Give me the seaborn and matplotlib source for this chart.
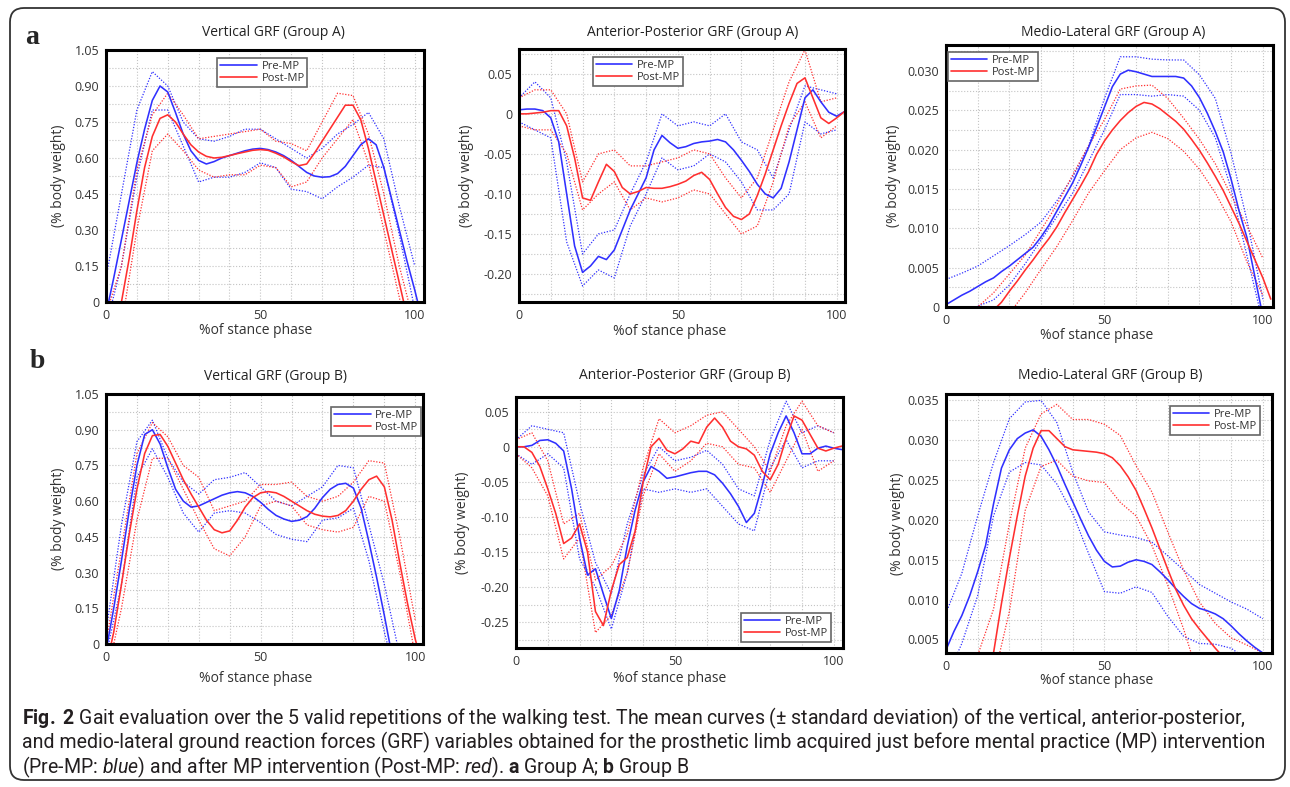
#!/usr/bin/env python3
"""
Gait evaluation figure: mean GRF curves (+/- SD) before and after mental practice,
Group A (top row) and Group B (bottom row).

Writes out.png
"""

import pandas as pd
import seaborn as sns
import matplotlib.pyplot as plt
from matplotlib import font_manager
from matplotlib.lines import Line2D
from matplotlib.patches import FancyBboxPatch
from matplotlib.ticker import MultipleLocator


# sample positions (% of stance phase)
STANCE = [0, 2.5, 5, 7.5, 10, 12.5, 15, 17.5, 20, 22.5, 25, 27.5, 30, 32.5, 35, 37.5,
          40, 42.5, 45, 47.5, 50, 52.5, 55, 57.5, 60, 62.5, 65, 67.5, 70, 72.5, 75,
          77.5, 80, 82.5, 85, 87.5, 90, 92.5, 95, 97.5, 100, 102.5]
STANCE_SD = [0, 5, 10, 15, 20, 25, 30, 35, 40, 45, 50, 55, 60, 65, 70, 75, 80, 85,
             90, 95, 100]

# ---- Vertical GRF, group A
VERT_A_PRE = [-0.05, 0.10, 0.26, 0.42, 0.58, 0.72, 0.84, 0.90, 0.875, 0.79, 0.70, 0.63,
              0.59, 0.575, 0.585, 0.60, 0.61, 0.62, 0.63, 0.637, 0.64, 0.635, 0.625,
              0.61, 0.59, 0.565, 0.54, 0.525, 0.52, 0.522, 0.535, 0.565, 0.61, 0.655,
              0.68, 0.655, 0.56, 0.43, 0.30, 0.17, 0.05, -0.08]
VERT_A_POST = [-0.25, -0.12, 0.0, 0.18, 0.38, 0.56, 0.69, 0.765, 0.78, 0.75, 0.70, 0.655,
               0.625, 0.607, 0.60, 0.603, 0.61, 0.618, 0.625, 0.632, 0.635, 0.632, 0.62,
               0.605, 0.585, 0.568, 0.575, 0.62, 0.67, 0.72, 0.77, 0.82, 0.82, 0.76,
               0.64, 0.50, 0.36, 0.22, 0.08, -0.06, -0.2, -0.34]
VERT_A_PRE_UP = [0.10, 0.45, 0.80, 0.96, 0.90, 0.75, 0.68, 0.67, 0.69, 0.72, 0.72, 0.68,
                 0.64, 0.60, 0.64, 0.70, 0.74, 0.79, 0.68, 0.40, 0.15]
VERT_A_PRE_LO = [-0.1, 0.15, 0.52, 0.80, 0.80, 0.65, 0.50, 0.52, 0.52, 0.54, 0.58, 0.56,
                 0.47, 0.46, 0.43, 0.48, 0.52, 0.57, 0.56, 0.28, -0.03]
VERT_A_POST_UP = [-0.05, 0.15, 0.55, 0.78, 0.87, 0.78, 0.68, 0.69, 0.70, 0.71, 0.72, 0.67,
                  0.66, 0.63, 0.75, 0.87, 0.86, 0.70, 0.45, 0.15, -0.1]
VERT_A_POST_LO = [-0.3, -0.1, 0.30, 0.63, 0.70, 0.63, 0.55, 0.52, 0.53, 0.53, 0.57, 0.56,
                  0.48, 0.50, 0.60, 0.68, 0.76, 0.58, 0.30, 0.02, -0.3]

# ---- Anterior-posterior GRF, group A
AP_A_PRE = [0.005, 0.006, 0.006, 0.004, -0.005, -0.035, -0.10, -0.165, -0.198, -0.19,
            -0.178, -0.182, -0.17, -0.145, -0.12, -0.10, -0.08, -0.045, -0.027, -0.036,
            -0.043, -0.041, -0.037, -0.035, -0.034, -0.032, -0.035, -0.045, -0.058,
            -0.072, -0.088, -0.10, -0.105, -0.093, -0.06, -0.02, 0.02, 0.03, 0.015,
            0.002, -0.003, 0.003]
AP_A_POST = [0.0, 0.0, 0.001, 0.002, 0.004, 0.004, -0.015, -0.055, -0.105, -0.108, -0.085,
             -0.063, -0.072, -0.092, -0.10, -0.097, -0.092, -0.093, -0.093, -0.091,
             -0.088, -0.084, -0.077, -0.073, -0.082, -0.10, -0.117, -0.128, -0.132,
             -0.125, -0.102, -0.075, -0.045, -0.015, 0.013, 0.038, 0.045, 0.02, -0.005,
             -0.012, -0.005, 0.003]
AP_A_PRE_UP = [0.02, 0.04, 0.02, -0.06, -0.175, -0.15, -0.145, -0.10, -0.06, 0.0, -0.015,
               -0.01, -0.015, 0.0, -0.035, -0.045, -0.08, -0.02, 0.035, 0.03, 0.025]
AP_A_PRE_LO = [-0.01, -0.02, -0.03, -0.16, -0.215, -0.195, -0.205, -0.14, -0.10, -0.055,
               -0.07, -0.065, -0.05, -0.06, -0.085, -0.12, -0.12, -0.10, -0.01, -0.025,
               -0.02]
AP_A_POST_UP = [0.02, 0.03, 0.03, 0.0, -0.085, -0.05, -0.045, -0.065, -0.065, -0.06,
                -0.055, -0.045, -0.05, -0.08, -0.105, -0.08, -0.02, 0.04, 0.08, 0.015,
                0.02]
AP_A_POST_LO = [-0.015, -0.02, -0.02, -0.05, -0.12, -0.10, -0.085, -0.12, -0.105, -0.11,
                -0.105, -0.095, -0.10, -0.125, -0.15, -0.14, -0.085, -0.015, 0.015,
                -0.03, -0.015]

# ---- Medio-lateral GRF, group A
ML_A_PRE = [0.0003, 0.0009, 0.0015, 0.0020, 0.0026, 0.0032, 0.0037, 0.0045, 0.0052,
            0.0060, 0.0068, 0.0076, 0.0089, 0.0104, 0.0122, 0.0140, 0.0158, 0.0180,
            0.0203, 0.0228, 0.0254, 0.0280, 0.0296, 0.0301, 0.0299, 0.0296, 0.0293,
            0.0293, 0.0293, 0.0293, 0.0291, 0.0281, 0.0266, 0.0246, 0.0223, 0.0197,
            0.0162, 0.0122, 0.0088, 0.0038, -0.0012, -0.0050]
ML_A_POST = [-0.006, -0.005, -0.004, -0.003, -0.002, -0.001, -0.0004, 0.0006, 0.0020,
             0.0033, 0.0047, 0.0060, 0.0074, 0.0087, 0.0102, 0.0120, 0.0137, 0.0154,
             0.0172, 0.0194, 0.0211, 0.0225, 0.0237, 0.0247, 0.0255, 0.0260, 0.0258,
             0.0252, 0.0244, 0.0236, 0.0226, 0.0213, 0.0199, 0.0183, 0.0166, 0.0148,
             0.0127, 0.0106, 0.0083, 0.0060, 0.0037, 0.0010]
ML_A_PRE_UP = [0.0035, 0.0043, 0.0052, 0.0065, 0.0078, 0.0092, 0.0108, 0.0135, 0.0165,
               0.0205, 0.0265, 0.0318, 0.0318, 0.0315, 0.0314, 0.0314, 0.0295, 0.0265,
               0.0195, 0.0110, 0.0010]
ML_A_PRE_LO = [-0.003, -0.0015, 0.0001, 0.0009, 0.0028, 0.0055, 0.0085, 0.0115, 0.0145,
               0.0185, 0.0225, 0.0270, 0.0270, 0.0268, 0.0270, 0.0268, 0.0250, 0.0215,
               0.0150, 0.0065, -0.0020]
ML_A_POST_UP = [-0.004, -0.002, 0.0, 0.0018, 0.0042, 0.0066, 0.0098, 0.0130, 0.0168,
                0.0205, 0.0238, 0.0277, 0.0281, 0.0282, 0.0265, 0.0240, 0.0213, 0.0182,
                0.0142, 0.0103, 0.0062]
ML_A_POST_LO = [-0.008, -0.006, -0.004, -0.002, -0.0008, 0.0018, 0.0048, 0.0077, 0.0110,
                0.0145, 0.0173, 0.0200, 0.0215, 0.0222, 0.0214, 0.0198, 0.0175, 0.0145,
                0.0108, 0.0057, 0.0015]

# ---- Vertical GRF, group B
VERT_B_PRE = [-0.03, 0.15, 0.35, 0.56, 0.75, 0.88, 0.90, 0.84, 0.74, 0.65, 0.60, 0.575,
              0.58, 0.595, 0.61, 0.625, 0.635, 0.64, 0.635, 0.62, 0.595, 0.565, 0.54,
              0.525, 0.515, 0.52, 0.535, 0.57, 0.615, 0.65, 0.67, 0.675, 0.655, 0.57,
              0.43, 0.28, 0.12, -0.05, -0.2, -0.35, -0.5, -0.65]
VERT_B_POST = [-0.1, 0.05, 0.25, 0.46, 0.65, 0.80, 0.875, 0.88, 0.83, 0.76, 0.69, 0.63,
               0.575, 0.52, 0.48, 0.467, 0.475, 0.52, 0.575, 0.615, 0.635, 0.64, 0.635,
               0.62, 0.60, 0.58, 0.56, 0.545, 0.537, 0.534, 0.54, 0.56, 0.60, 0.65, 0.69,
               0.705, 0.66, 0.52, 0.34, 0.17, 0.02, -0.1]
VERT_B_PRE_UP = [0.05, 0.50, 0.85, 0.94, 0.78, 0.68, 0.63, 0.69, 0.70, 0.72, 0.66, 0.60,
                 0.58, 0.62, 0.66, 0.75, 0.74, 0.50, 0.25, -0.05, -0.3]
VERT_B_PRE_LO = [-0.05, 0.25, 0.70, 0.82, 0.70, 0.55, 0.47, 0.55, 0.56, 0.55, 0.51, 0.46,
                 0.44, 0.43, 0.52, 0.53, 0.57, 0.35, 0.05, -0.2, -0.4]
VERT_B_POST_UP = [0.0, 0.40, 0.80, 0.93, 0.87, 0.75, 0.70, 0.56, 0.58, 0.60, 0.67, 0.67,
                  0.68, 0.62, 0.60, 0.62, 0.68, 0.77, 0.76, 0.45, 0.10]
VERT_B_POST_LO = [-0.15, 0.15, 0.52, 0.78, 0.78, 0.65, 0.52, 0.40, 0.37, 0.45, 0.58, 0.60,
                  0.58, 0.50, 0.48, 0.47, 0.49, 0.62, 0.60, 0.30, -0.05]

# ---- Anterior-posterior GRF, group B
AP_B_PRE = [0.0, 0.0, 0.002, 0.009, 0.010, 0.005, -0.006, -0.06, -0.13, -0.183, -0.174,
            -0.21, -0.245, -0.205, -0.142, -0.09, -0.05, -0.028, -0.035, -0.045, -0.043,
            -0.04, -0.037, -0.035, -0.035, -0.04, -0.052, -0.067, -0.085, -0.108,
            -0.095, -0.055, -0.01, 0.02, 0.044, 0.02, -0.01, -0.01, -0.002, 0.001,
            -0.002, -0.004]
AP_B_POST = [0.0, 0.0, -0.008, -0.028, -0.06, -0.095, -0.138, -0.13, -0.11, -0.15, -0.235,
             -0.255, -0.205, -0.168, -0.158, -0.12, -0.05, 0.0, 0.012, -0.005, -0.01,
             -0.003, 0.008, 0.005, 0.028, 0.041, 0.028, 0.008, 0.0, -0.003, -0.012,
             -0.035, -0.047, -0.025, 0.012, 0.044, 0.038, 0.018, -0.002, -0.006, -0.002,
             0.001]
AP_B_PRE_UP = [0.01, 0.03, 0.025, 0.02, -0.08, -0.165, -0.21, -0.11, -0.04, 0.0, -0.02,
               -0.015, -0.005, -0.025, -0.06, -0.07, 0.01, 0.065, 0.02, 0.03, 0.02]
AP_B_PRE_LO = [-0.01, -0.025, -0.01, -0.03, -0.16, -0.2, -0.26, -0.18, -0.06, -0.065,
               -0.06, -0.065, -0.06, -0.085, -0.11, -0.12, -0.03, 0.01, -0.03, -0.02,
               -0.02]
AP_B_POST_UP = [0.01, 0.02, -0.02, -0.11, -0.095, -0.19, -0.17, -0.125, -0.03, 0.04, 0.02,
                0.03, 0.045, 0.05, 0.025, 0.0, -0.035, 0.03, 0.065, 0.03, 0.02]
AP_B_POST_LO = [-0.01, -0.03, -0.07, -0.16, -0.13, -0.265, -0.24, -0.18, -0.07, -0.01,
                -0.035, -0.02, 0.005, 0.0, -0.025, -0.03, -0.065, -0.02, 0.025, -0.035,
                -0.02]

# ---- Medio-lateral GRF, group B
ML_B_PRE = [0.0037, 0.0060, 0.0080, 0.0105, 0.0135, 0.0168, 0.0220, 0.0265, 0.0288,
            0.0302, 0.0309, 0.0313, 0.0305, 0.0288, 0.0268, 0.0245, 0.0223, 0.0201,
            0.0180, 0.0162, 0.0148, 0.0141, 0.0142, 0.0147, 0.0150, 0.0148, 0.0144,
            0.0135, 0.0125, 0.0114, 0.0104, 0.0095, 0.0089, 0.0086, 0.0082, 0.0076,
            0.0067, 0.0057, 0.0048, 0.0040, 0.0033, 0.0026]
ML_B_POST = [-0.012, -0.010, -0.008, -0.006, -0.003, -0.001, 0.0033, 0.0095, 0.0152,
             0.0205, 0.0255, 0.0290, 0.0312, 0.0312, 0.0302, 0.0292, 0.0288, 0.0287,
             0.0286, 0.0285, 0.0283, 0.0278, 0.0268, 0.0254, 0.0237, 0.0214, 0.0190,
             0.0164, 0.0138, 0.0113, 0.0093, 0.0076, 0.0063, 0.0051, 0.0039, 0.0028,
             0.0018, 0.0008, 0.0, -0.0008, -0.0015, -0.002]
ML_B_PRE_UP = [0.0083, 0.0133, 0.0205, 0.0272, 0.0327, 0.0348, 0.0350, 0.0322, 0.0260,
               0.0210, 0.0185, 0.0181, 0.0178, 0.0172, 0.0155, 0.0137, 0.0119, 0.0108,
               0.0097, 0.0088, 0.0076]
ML_B_PRE_LO = [0.0, 0.0045, 0.0105, 0.0205, 0.0260, 0.0272, 0.0269, 0.0245, 0.0208,
               0.0158, 0.0110, 0.0108, 0.0116, 0.0109, 0.0079, 0.0054, 0.0045, 0.0044,
               0.0039, 0.0025, 0.0015]
ML_B_POST_UP = [-0.004, -0.002, 0.003, 0.0088, 0.0195, 0.0290, 0.0333, 0.0345, 0.0326,
                0.0326, 0.0320, 0.0306, 0.0268, 0.0235, 0.0185, 0.0137, 0.0097, 0.0070,
                0.0052, 0.0043, 0.0033]
ML_B_POST_LO = [-0.010, -0.006, -0.003, 0.0, 0.0085, 0.0212, 0.0267, 0.0275, 0.0255,
                0.0249, 0.0247, 0.0222, 0.0205, 0.0168, 0.0118, 0.0063, 0.0, -0.004,
                -0.008, -0.010, -0.012]

SESSIONS = ["Pre-MP", "Post-MP"]
PALETTE = {"Pre-MP": "#3030ff", "Post-MP": "#ff2f2f"}

VERT_TICKS = [0, 0.15, 0.30, 0.45, 0.60, 0.75, 0.90, 1.05]
VERT_LABELS = ["0", "0.15", "0.30", "0.45", "0.60", "0.75", "0.90", "1.05"]
AP_A_TICKS = [-0.20, -0.15, -0.10, -0.05, 0, 0.05]
AP_A_LABELS = ["-0.20", "-0.15", "-0.10", "-0.05", "0", "0.05"]
AP_B_TICKS = [-0.25, -0.20, -0.15, -0.10, -0.05, 0, 0.05]
AP_B_LABELS = ["-0.25", "-0.20", "-0.15", "-0.10", "-0.05", "0", "0.05"]
ML_A_TICKS = [0, 0.005, 0.010, 0.015, 0.020, 0.025, 0.030]
ML_A_LABELS = ["0", "0.005", "0.010", "0.015", "0.020", "0.025", "0.030"]
ML_B_TICKS = [0.005, 0.010, 0.015, 0.020, 0.025, 0.030, 0.035]
ML_B_LABELS = ["0.005", "0.010", "0.015", "0.020", "0.025", "0.030", "0.035"]

W, H = 1290, 787


def long_frames(pre, post, pre_up, pre_lo, post_up, post_lo):
    n, m = len(STANCE), len(STANCE_SD)
    mean = pd.DataFrame({
        "stance": STANCE * 2,
        "value": pre + post,
        "session": ["Pre-MP"] * n + ["Post-MP"] * n,
    })
    sd = pd.DataFrame({
        "stance": STANCE_SD * 4,
        "value": pre_up + pre_lo + post_up + post_lo,
        "session": ["Pre-MP"] * (2 * m) + ["Post-MP"] * (2 * m),
        "line": ["pre_up"] * m + ["pre_lo"] * m + ["post_up"] * m + ["post_lo"] * m,
    })
    return mean, sd


# layout per panel: axes box in pixels (left, top, right, bottom)
PANELS = [
    dict(title="Vertical GRF (Group A)", data=(VERT_A_PRE, VERT_A_POST, VERT_A_PRE_UP,
         VERT_A_PRE_LO, VERT_A_POST_UP, VERT_A_POST_LO),
         box=(106, 50, 424, 302), xmax=103, ylim=(0, 1.05), ticks=VERT_TICKS,
         labels=VERT_LABELS, minor=0.075, title_xy=(273, 32), ylab_x=58, xlab_xy=(256, 330),
         leg=dict(loc="upper center", bbox_to_anchor=(0.492, 0.968))),
    dict(title="Anterior-Posterior GRF (Group A)", data=(AP_A_PRE, AP_A_POST, AP_A_PRE_UP,
         AP_A_PRE_LO, AP_A_POST_UP, AP_A_POST_LO),
         box=(519, 49, 845, 302), xmax=102.6, ylim=(-0.235, 0.081), ticks=AP_A_TICKS,
         labels=AP_A_LABELS, minor=0.025, title_xy=(693, 32), ylab_x=467, xlab_xy=(670, 332),
         leg=dict(loc="upper left", bbox_to_anchor=(0.227, 0.968))),
    dict(title="Medio-Lateral GRF (Group A)", data=(ML_A_PRE, ML_A_POST, ML_A_PRE_UP,
         ML_A_PRE_LO, ML_A_POST_UP, ML_A_POST_LO),
         box=(946, 45, 1273, 307), xmax=103.2, ylim=(0, 0.0333), ticks=ML_A_TICKS,
         labels=ML_A_LABELS, minor=0.0025, title_xy=(1113, 32), ylab_x=893, xlab_xy=(1097, 335),
         leg=dict(loc="upper left", bbox_to_anchor=(0.006, 0.973))),
    dict(title="Vertical GRF (Group B)", data=(VERT_B_PRE, VERT_B_POST, VERT_B_PRE_UP,
         VERT_B_PRE_LO, VERT_B_POST_UP, VERT_B_POST_LO),
         box=(106, 394, 423, 644), xmax=102.5, ylim=(0, 1.05), ticks=VERT_TICKS,
         labels=VERT_LABELS, minor=0.075, title_xy=(275, 376), ylab_x=58, xlab_xy=(256, 678),
         leg=dict(loc="upper right", bbox_to_anchor=(0.994, 0.948))),
    dict(title="Anterior-Posterior GRF (Group B)", data=(AP_B_PRE, AP_B_POST, AP_B_PRE_UP,
         AP_B_PRE_LO, AP_B_POST_UP, AP_B_POST_LO),
         box=(516, 397, 843, 648), xmax=102.9, ylim=(-0.287, 0.071), ticks=AP_B_TICKS,
         labels=AP_B_LABELS, minor=0.025, title_xy=(685, 375), ylab_x=463, xlab_xy=(670, 678),
         leg=dict(loc="lower right", bbox_to_anchor=(0.963, 0.024))),
    dict(title="Medio-Lateral GRF (Group B)", data=(ML_B_PRE, ML_B_POST, ML_B_PRE_UP,
         ML_B_PRE_LO, ML_B_POST_UP, ML_B_POST_LO),
         box=(946, 394, 1272, 653), xmax=102.9, ylim=(0.0033, 0.0358), ticks=ML_B_TICKS,
         labels=ML_B_LABELS, minor=0.0025, title_xy=(1110, 375), ylab_x=898, xlab_xy=(1097, 681),
         leg=dict(loc="upper right", bbox_to_anchor=(0.963, 0.954))),
]


def pick_font(names, default="DejaVu Sans"):
    for name in names:
        try:
            font_manager.findfont(name, fallback_to_default=False)
            return name
        except ValueError:
            continue
    return default


def draw_panel(fig, cfg):
    l, t, r, b = cfg["box"]
    ax = fig.add_axes([l / W, 1 - b / H, (r - l) / W, (b - t) / H])
    mean, sd = long_frames(*cfg["data"])

    sns.lineplot(data=sd, x="stance", y="value", hue="session", units="line",
                 estimator=None, hue_order=SESSIONS, palette=PALETTE,
                 linestyle=(0, (1, 1.3)), linewidth=0.9, legend=False, ax=ax)
    sns.lineplot(data=mean, x="stance", y="value", hue="session", hue_order=SESSIONS,
                 palette=PALETTE, linewidth=1.15, legend=False, ax=ax,
                 solid_joinstyle="round")

    ax.set_xlim(0, cfg["xmax"])
    ax.set_ylim(*cfg["ylim"])
    ax.set_xticks([0, 50, 100])
    ax.set_xticklabels(["0", "50", "100"])
    ax.set_yticks(cfg["ticks"])
    ax.set_yticklabels(cfg["labels"])
    ax.xaxis.set_minor_locator(MultipleLocator(10))
    ax.yaxis.set_minor_locator(MultipleLocator(cfg["minor"]))
    ax.grid(True, which="both", linestyle=":", linewidth=0.8, color="#c4c4c4")
    ax.tick_params(which="minor", length=0)
    ax.tick_params(which="major", direction="in", length=3, labelsize=9,
                   labelcolor="#333333", pad=5)
    ax.set_facecolor("white")
    for spine in ax.spines.values():
        spine.set_visible(True)
        spine.set_color("black")
        spine.set_linewidth(2.2)

    ax.set_xlabel("%of stance phase", fontsize=10, color="#333333")
    ax.set_ylabel("(% body weight)", fontsize=10, color="#333333")
    ax.xaxis.set_label_coords(cfg["xlab_xy"][0] / W, 1 - cfg["xlab_xy"][1] / H,
                              transform=fig.transFigure)
    ax.xaxis.label.set_va("center")
    ax.yaxis.set_label_coords(cfg["ylab_x"] / W, 1 - ((t + b) / 2) / H,
                              transform=fig.transFigure)
    ax.yaxis.label.set_va("center")

    fig.text(cfg["title_xy"][0] / W, 1 - cfg["title_xy"][1] / H, cfg["title"],
             ha="center", va="center", fontsize=10, color="#222222")

    handles = [Line2D([], [], color=PALETTE[s], linewidth=1.2) for s in SESSIONS]
    leg = ax.legend(handles, SESSIONS, fontsize=8, frameon=True, fancybox=False,
                    framealpha=1, edgecolor="#666666", handlelength=3.3,
                    handletextpad=0.4, labelspacing=0.1, borderpad=0.25,
                    borderaxespad=0, **cfg["leg"])
    leg.get_frame().set_linewidth(1.2)
    for txt in leg.get_texts():
        txt.set_color("#333333")


def draw_caption(fig):
    cap = pick_font(["Liberation Sans Narrow", "DejaVu Sans Condensed", "Roboto"])
    plt.rcParams["mathtext.fontset"] = "custom"
    plt.rcParams["mathtext.rm"] = cap
    plt.rcParams["mathtext.it"] = cap + ":italic"
    plt.rcParams["mathtext.bf"] = cap + ":bold"

    lines = [
        r"$\mathbf{Fig.}$ $\mathbf{2}$ Gait evaluation over the 5 valid repetitions of the "
        r"walking test. The mean curves (± standard deviation) of the vertical, "
        r"anterior-posterior,",
        "and medio-lateral ground reaction forces (GRF) variables obtained for the "
        "prosthetic limb acquired just before mental practice (MP) intervention",
        r"(Pre-MP: $\mathit{blue}$) and after MP intervention (Post-MP: $\mathit{red}$). "
        r"$\mathbf{a}$ Group A; $\mathbf{b}$ Group B",
    ]
    ys = [718, 742, 767]
    targets = [1246, 1240]
    texts = [fig.text(22 / W, 1 - y / H, s, fontsize=12, family=cap, color="#231f20",
                      ha="left", va="center") for s, y in zip(lines, ys)]
    renderer = fig.canvas.get_renderer()
    size = min(12 * tw / txt.get_window_extent(renderer).width
               for txt, tw in zip(texts, targets))
    for txt in texts:
        txt.set_fontsize(size)


def main():
    sns.set_theme(style="white")
    plt.rcParams["font.family"] = ["Open Sans", "DejaVu Sans"]

    fig = plt.figure(figsize=(W / 100, H / 100), dpi=100)

    border = FancyBboxPatch((0.10, 0.07), 12.75, 7.72,
                            boxstyle="round,pad=0,rounding_size=0.14",
                            transform=fig.dpi_scale_trans, facecolor="none",
                            edgecolor="#333333", linewidth=1.3)
    fig.patches.append(border)

    for cfg in PANELS:
        draw_panel(fig, cfg)

    serif = ["Liberation Serif", "DejaVu Serif"]
    fig.text(32 / W, 1 - 38 / H, "a", family=serif, fontweight="bold", fontsize=20,
             ha="center", va="center")
    fig.text(37 / W, 1 - 361 / H, "b", family=serif, fontweight="bold", fontsize=20,
             ha="center", va="center")

    draw_caption(fig)

    fig.savefig("out.png", dpi=100)
    plt.close(fig)


if __name__ == "__main__":
    main()
